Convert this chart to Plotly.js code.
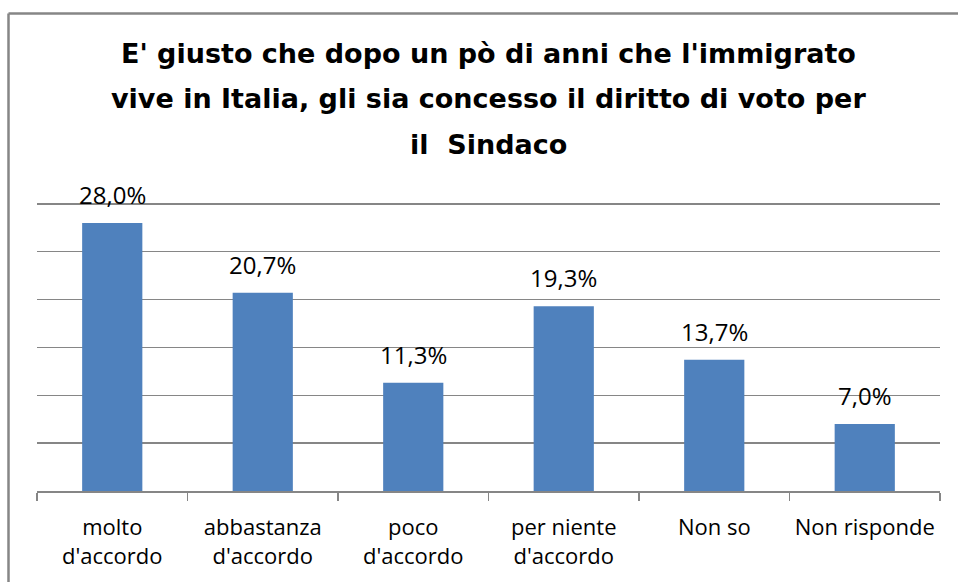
<!DOCTYPE html>
<html>
<head>
<meta charset="utf-8">
<script src="https://cdn.plot.ly/plotly-3.0.1.min.js"></script>
<style>html,body{margin:0;padding:0;background:#fff;}#chart{width:958px;height:582px;}</style>
</head>
<body>
<div id="chart"></div>
<script>
var categories = ["molto<br>d'accordo", "abbastanza<br>d'accordo", "poco<br>d'accordo", "per niente<br>d'accordo", "Non so", "Non risponde"];
var values = [28.0, 20.7, 11.3, 19.3, 13.7, 7.0];
var titleLines = ["E' giusto che dopo un pò di anni che l'immigrato", "vive in Italia, gli sia concesso il diritto di voto per", "il  Sindaco"];

var labels = values.map(function (v) { return v.toFixed(1).replace('.', ',') + '%'; });
var FONT = "Open Sans, Liberation Sans, sans-serif";
var TFONT = "DejaVu Sans, Open Sans, sans-serif";

var PLOT_H = 292, BASE = 491;
var fx = function (px) { return (px - 37) / 903; };
var fy = function (py) { return (BASE - py) / PLOT_H; };

var annotations = [];
values.forEach(function (v, i) {
  annotations.push({
    x: categories[i], y: v, xref: 'x', yref: 'y',
    text: labels[i], showarrow: false, yanchor: 'bottom', yshift: 10,
    font: {family: FONT, size: 24, color: '#000'}
  });
});
var titleY = [54, 99, 144];
titleLines.forEach(function (t, i) {
  annotations.push({
    x: 0.5, xref: 'paper', yref: 'paper', y: fy(titleY[i]),
    yanchor: 'middle', xanchor: 'center', showarrow: false,
    text: '<b>' + t.replace(/  /g, ' \u00a0') + '</b>',
    font: {family: TFONT, size: 27, color: '#000'}
  });
});

var trace = {
  type: 'bar', x: categories, y: values,
  marker: {color: '#4F81BD'},
  hoverinfo: 'none'
};

var layout = {
  width: 958, height: 582,
  margin: {l: 37, r: 18, t: 582 - 91 - PLOT_H, b: 91, pad: 0},
  paper_bgcolor: '#fff', plot_bgcolor: '#fff',
  showlegend: false,
  bargap: 0.6,
  font: {family: FONT, color: '#000'},
  xaxis: {
    type: 'category',
    showline: true, linecolor: '#868686', linewidth: 1.5,
    ticks: 'outside', tickson: 'boundaries', ticklen: 8, tickcolor: '#868686', tickwidth: 1.5,
    tickfont: {family: FONT, size: 22, color: '#000'},
    ticklabelstandoff: 16,
    showgrid: false, zeroline: false, fixedrange: true
  },
  yaxis: {
    range: [0, 30.5], dtick: 5, tick0: 0,
    showticklabels: false, ticks: '',
    showgrid: true, gridcolor: '#868686', gridwidth: 1.5,
    zeroline: false, showline: false, fixedrange: true
  },
  annotations: annotations,
  shapes: [
    {type: 'line', xref: 'paper', yref: 'paper', x0: fx(8.5), x1: fx(8.5), y0: fy(13.5), y1: fy(600),
     line: {color: '#868686', width: 2.5}},
    {type: 'line', xref: 'paper', yref: 'paper', x0: fx(8.5), x1: fx(980), y0: fy(13.5), y1: fy(13.5),
     line: {color: '#868686', width: 2.5}}
  ]
};

Plotly.newPlot('chart', [trace], layout, {displayModeBar: false, staticPlot: true});
</script>
</body>
</html>
